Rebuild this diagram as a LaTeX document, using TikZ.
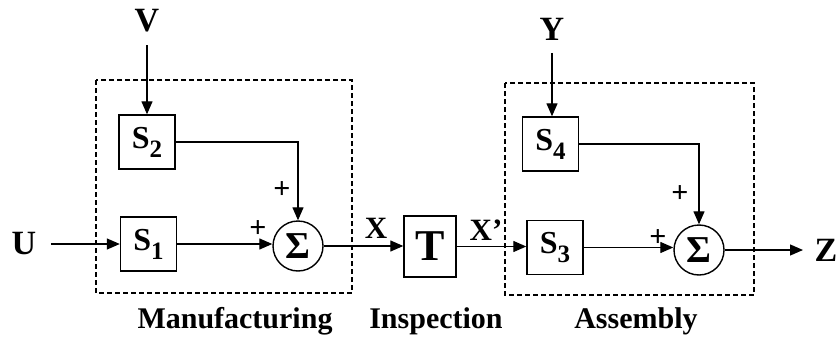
\documentclass[tikz,border=0pt]{standalone}
\usepackage{fontspec}
\setmainfont{Liberation Serif}
\usetikzlibrary{arrows.meta}
\newcommand\mysub[1]{\raisebox{-0.28em}{\fontsize{25}{25}\selectfont #1}}
\begin{document}
\begin{tikzpicture}[x=1pt,y=-1pt, line width=1.3pt,
  >={Triangle[length=13pt,width=11pt]},
  blk/.style={draw, line width=1.4pt, minimum width=56pt, minimum height=54pt, inner sep=0pt,
    font=\fontsize{32}{32}\selectfont\bfseries},
  sumnode/.style={draw, circle, line width=1.4pt, minimum size=50pt, inner sep=0pt,
    font=\fontsize{38}{38}\selectfont\bfseries},
  sigl/.style={font=\fontsize{34}{34}\selectfont\bfseries, inner sep=2pt},
  capt/.style={font=\fontsize{30}{30}\selectfont\bfseries, anchor=base},
  xl/.style={font=\fontsize{31}{31}\selectfont\bfseries},
  pl/.style={font=\fontsize{30}{30}\selectfont\bfseries},
  grp/.style={draw, dash pattern=on 5pt off 3pt, line width=1.1pt}]
\useasboundingbox (0,0) rectangle (837,337);

% groups
\draw[grp] (96,80) rectangle (352,293);
\draw[grp] (505,83) rectangle (754,295);

% signals
\node[sigl] (U) at (24,244) {U};
\node[sigl] (V) at (147,21) {V};
\node[sigl] (Y) at (552,29) {Y};
\node[sigl, anchor=west, inner sep=1pt] (Z) at (813,250) {Z};

% blocks
\node[blk] (S1) at (148.5,244) {S\mysub{1}};
\node[blk] (S2) at (147,142) {S\mysub{2}};
\node[sumnode] (sig1) at (298,246) {\char"03A3};
\node[blk, minimum width=52pt, minimum height=61pt, font=\fontsize{44}{44}\selectfont\bfseries] (T) at (430,246.5) {T};
\node[blk] (S3) at (555,247.5) {S\mysub{3}};
\node[blk] (S4) at (550.5,144) {S\mysub{4}};
\node[sumnode] (sig2) at (699,250) {\char"03A3};

% connectors
\draw[->, shorten <=12pt] (U.east) -- (U.east -| S1.west);
\draw[->, shorten <=10pt] (V.south) -- (V.south |- S2.north);
\draw[->] (S2.east) -| (sig1.north);
\draw[->] (S1.east) -- (S1.east -| sig1.west);
\draw[->] (sig1.east) -- (sig1.east -| T.west);
\draw[->] (T.east) -- (T.east -| S3.west);
\draw[->, shorten <=10pt] (Y.south) -- (Y.south |- S4.north);
\draw[->] (S4.east) -| (sig2.north);
\draw[->] (S3.east) -- (S3.east -| sig2.west);
\draw[->, shorten >=10pt] (sig2.east) -- (sig2.east -| Z.west);

% labels
\node[pl] (p1) at (282,190) {+};
\node[pl] (p2) at (258,229) {+};
\node[pl] (p3) at (680,194) {+};
\node[pl] (p4) at (658,238) {+};
\node[xl] (X) at (376,228) {X};
\node[xl] (Xp) at (486,230) {X’};

\node[capt] (cm) at (235,328) {Manufacturing};
\node[capt] (ci) at (436,328) {Inspection};
\node[capt] (ca) at (636,328) {Assembly};
\end{tikzpicture}
\end{document}
